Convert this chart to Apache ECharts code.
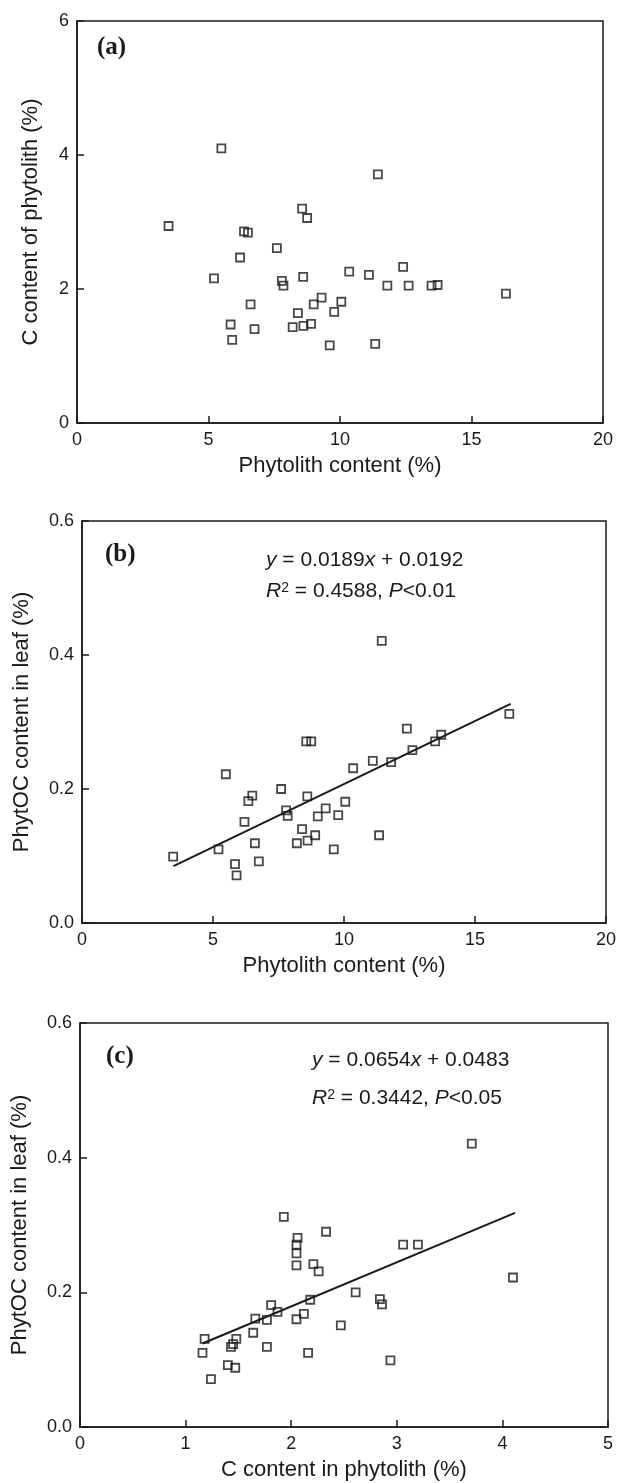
<!DOCTYPE html>
<html>
<head>
<meta charset="utf-8">
<script src="https://cdn.jsdelivr.net/npm/echarts@6/dist/echarts.min.js"></script>
<style>
  html, body { margin: 0; padding: 0; background: #fff; }
  #main { width: 619px; height: 1483px; }
</style>
</head>
<body>
<div id="main"></div>
<script>
// one entry per sample, same order in every array
const phytolithContent = [3.48, 5.21, 5.49, 5.84, 5.90, 6.20, 6.35, 6.50, 6.60, 6.75,
  7.60, 7.79, 7.85, 8.20, 8.40, 8.56, 8.60, 8.61, 8.75, 8.90,
  9.00, 9.30, 9.61, 9.78, 10.05, 10.35, 11.10, 11.34, 11.44, 11.80,
  12.40, 12.61, 13.48, 13.71, 16.31];
const carbonInPhytolith = [2.94, 2.16, 4.10, 1.47, 1.24, 2.47, 2.86, 2.84, 1.77, 1.40,
  2.61, 2.12, 2.05, 1.43, 1.64, 3.20, 2.18, 1.45, 3.06, 1.48,
  1.77, 1.87, 1.16, 1.66, 1.81, 2.26, 2.21, 1.18, 3.71, 2.05,
  2.33, 2.05, 2.05, 2.06, 1.93];
const phytocInLeaf = [0.099, 0.110, 0.222, 0.088, 0.071, 0.151, 0.182, 0.190, 0.119, 0.092,
  0.200, 0.168, 0.160, 0.119, 0.140, 0.271, 0.189, 0.123, 0.271, 0.131,
  0.159, 0.171, 0.110, 0.161, 0.181, 0.231, 0.242, 0.131, 0.421, 0.240,
  0.290, 0.258, 0.271, 0.281, 0.312];

// fitted lines as drawn (end points)
const trendB = [[3.49, 0.085], [16.36, 0.327]];
const trendC = [[1.16, 0.124], [4.12, 0.318]];

const xTicksPhyto = [0, 5, 10, 15, 20];
const yTicksCarbon = [0, 2, 4, 6];
const yTicksPhytoc = [0, 0.2, 0.4, 0.6];
const xTicksCarbon = [0, 1, 2, 3, 4, 5];

const INK = '#1a1a1a';
const SANS = '"Liberation Sans", Arial, sans-serif';
const SERIF = '"Liberation Serif", "Times New Roman", serif';

function pairs(xs, ys) {
  return xs.map((x, i) => [x, ys[i]]);
}

function axis(gridIndex, ticks, name, nameGap, digits) {
  return {
    type: 'value',
    gridIndex: gridIndex,
    min: ticks[0],
    max: ticks[ticks.length - 1],
    interval: ticks[1] - ticks[0],
    name: name,
    nameLocation: 'middle',
    nameGap: nameGap,
    nameTextStyle: { color: INK, fontSize: 22, fontFamily: SANS },
    axisLine: { show: true, lineStyle: { color: INK, width: 1.5 } },
    axisTick: { show: true, inside: true, length: 7, lineStyle: { color: INK, width: 1.5 } },
    splitLine: { show: false },
    axisLabel: {
      color: INK, fontSize: 18, fontFamily: SANS, margin: 8,
      formatter: v => v.toFixed(digits)
    }
  };
}

const gridBase = { show: true, borderColor: INK, borderWidth: 1.5, backgroundColor: 'transparent' };

const markStyle = { color: 'rgba(0,0,0,0)', borderColor: INK, borderWidth: 1.8 };

function scatter(i, data) {
  return {
    type: 'scatter', xAxisIndex: i, yAxisIndex: i, data: data,
    symbol: 'rect', symbolSize: 8, itemStyle: markStyle, silent: true, z: 3
  };
}

function trend(i, data) {
  return {
    type: 'line', xAxisIndex: i, yAxisIndex: i, data: data,
    symbol: 'none', lineStyle: { color: INK, width: 2 }, silent: true, z: 2
  };
}

const rich = {
  i: { fontStyle: 'italic', fontSize: 21, fontFamily: SANS, fill: INK },
  n: { fontSize: 21, fontFamily: SANS, fill: INK },
  s: { fontSize: 14, fontFamily: SANS, fill: INK, verticalAlign: 'top' }
};

function label(text, left, top) {
  return {
    type: 'text', left: left, top: top,
    style: { text: text, font: 'bold 25px ' + SERIF, fill: INK }
  };
}

function eq(text, left, top) {
  return {
    type: 'text', left: left, top: top,
    style: { text: text, rich: rich, fontSize: 21, fontFamily: SANS, fill: INK }
  };
}

const chart = echarts.init(document.getElementById('main'), null, { renderer: 'canvas' });

chart.setOption({
  animation: false,
  backgroundColor: '#fff',
  grid: [
    Object.assign({ left: 77, top: 21, width: 526, height: 402 }, gridBase),
    Object.assign({ left: 82, top: 521, width: 526, height: 402 }, gridBase),
    Object.assign({ left: 80, top: 1023, width: 528, height: 404 }, gridBase)
  ],
  xAxis: [
    axis(0, xTicksPhyto, 'Phytolith content (%)', 32, 0),
    axis(1, xTicksPhyto, 'Phytolith content (%)', 32, 0),
    axis(2, xTicksCarbon, 'C content in phytolith (%)', 32, 0)
  ],
  yAxis: [
    axis(0, yTicksCarbon, 'C content of phytolith (%)', 35, 0),
    axis(1, yTicksPhytoc, 'PhytOC content in leaf (%)', 49, 1),
    axis(2, yTicksPhytoc, 'PhytOC content in leaf (%)', 49, 1)
  ],
  series: [
    scatter(0, pairs(phytolithContent, carbonInPhytolith)),
    trend(1, trendB),
    scatter(1, pairs(phytolithContent, phytocInLeaf)),
    trend(2, trendC),
    scatter(2, pairs(carbonInPhytolith, phytocInLeaf))
  ],
  graphic: [
    label('(a)', 97, 35),
    label('(b)', 105, 542),
    label('(c)', 106, 1044),
    eq('{i|y}{n| = 0.0189}{i|x}{n| + 0.0192}', 266, 550),
    eq('{i|R}{s|2}{n| = 0.4588, }{i|P}{n|<0.01}', 266, 581),
    eq('{i|y}{n| = 0.0654}{i|x}{n| + 0.0483}', 312, 1050),
    eq('{i|R}{s|2}{n| = 0.3442, }{i|P}{n|<0.05}', 312, 1088)
  ]
});
</script>
</body>
</html>
